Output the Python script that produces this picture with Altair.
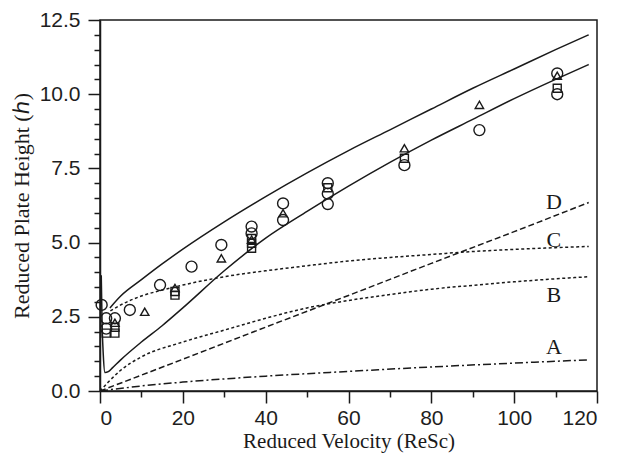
import altair as alt
import pandas as pd

# ---- model curves: reduced plate height h vs reduced velocity ----
upper_x = [2.4, 5, 10, 15, 20, 30, 40, 50, 60, 70, 80, 90, 100, 110, 118]
upper_h = [2.8, 3.2, 3.75, 4.28, 4.78, 5.7, 6.55, 7.35, 8.1, 8.8, 9.5, 10.2, 10.85, 11.5, 12.0]

lower_x = [0.3, 0.5, 0.8, 1.2, 2, 3, 5, 10, 15, 20, 30, 40, 50, 60, 70, 80, 90, 100, 110, 118]
lower_h = [3.9, 2.3, 1.2, 0.62, 0.65, 0.78, 1.05, 1.65, 2.2, 2.8, 4.05, 5.15, 6.05, 6.9, 7.7, 8.45, 9.15, 9.85, 10.5, 11.0]

# individual contributions A-D
a_x = [0, 10, 20, 40, 60, 80, 100, 118]
a_h = [0, 0.17, 0.3, 0.5, 0.66, 0.81, 0.94, 1.05]

b_x = [0, 2, 5, 10, 20, 30, 40, 50, 60, 70, 80, 90, 100, 110, 118]
b_h = [0, 0.3, 0.7, 1.15, 1.65, 2.05, 2.45, 2.8, 3.05, 3.25, 3.43, 3.56, 3.68, 3.78, 3.85]

c_x = [2.5, 5, 10, 15, 20, 30, 40, 50, 60, 70, 80, 90, 100, 110, 118]
c_h = [2.7, 2.9, 3.2, 3.4, 3.57, 3.85, 4.05, 4.22, 4.38, 4.5, 4.6, 4.7, 4.77, 4.83, 4.87]

d_x = [0, 20, 40, 60, 80, 100, 118]
d_h = [0, 1.07, 2.15, 3.22, 4.3, 5.37, 6.35]

# ---- measured points ----
circle_x = [0.4, 1.5, 3.6, 1.5, 7.2, 14.5, 22.1, 29.3, 36.6, 36.6, 44.2, 44.2,
            55, 55, 55, 73.5, 91.6, 110.4, 110.4]
circle_h = [2.9, 2.45, 2.45, 2.1, 2.73, 3.57, 4.19, 4.92, 5.54, 5.31, 6.32, 5.76,
            7.0, 6.65, 6.3, 7.61, 8.79, 10.7, 10.0]

tri_x = [3.6, 10.8, 18.1, 29.3, 36.6, 44.2, 73.5, 91.6, 110.4]
tri_h = [2.3, 2.67, 3.47, 4.47, 5.1, 5.99, 8.18, 9.64, 10.62]

sq_x = [1.5, 3.6, 3.6, 18.1, 18.1, 36.6, 36.6, 36.6, 55, 73.5, 110.4]
sq_h = [1.95, 2.15, 1.95, 3.35, 3.23, 5.14, 4.98, 4.81, 6.85, 7.84, 10.2]

# curve labels
lab_text = ["A", "B", "C", "D"]
lab_x = [109.6, 109.6, 109.6, 109.6]
lab_h = [1.49, 3.23, 5.09, 6.38]

# axis ticks
x_major = [0, 20, 40, 60, 80, 100, 120]
x_minor = [10, 30, 50, 70, 90, 110]
y_major = [0, 2.5, 5, 7.5, 10, 12.5]
y_minor = [v * 0.5 for v in range(26) if v % 5 != 0]

INK = "#1a1a1a"

x_scale = alt.Scale(domain=[0, 120], nice=False, zero=False)
y_scale = alt.Scale(domain=[0, 12.5], nice=False, zero=False)

x_axis = alt.Axis(
    values=x_major, tickSize=12, labelOverlap=False, orient="bottom",
    title="Reduced Velocity (ReSc)", titlePadding=2, titleFontSize=21,
    labelPadding=4, grid=False,
)
y_axis = alt.Axis(
    values=y_major, tickSize=12, labelOverlap=False, orient="left", format=".1f",
    title="Reduced Plate Height (ℎ)", titlePadding=6, labelPadding=8, grid=False,
)
# shorter unlabelled ticks between the major ones
x_axis_minor = alt.Axis(
    values=x_minor, tickSize=6, labels=False, domain=False, title=None,
    orient="bottom", grid=False,
)
y_axis_minor = alt.Axis(
    values=y_minor, tickSize=6, labels=False, domain=False, title=None,
    orient="left", grid=False,
)


def xy(xa=None, ya=None):
    return dict(
        x=alt.X("v:Q", scale=x_scale, axis=xa),
        y=alt.Y("h:Q", scale=y_scale, axis=ya),
    )


def curve(xs, hs, dash=None, xa=None, ya=None):
    df = pd.DataFrame({"v": xs, "h": hs})
    kw = dict(color=INK, strokeWidth=1.5, interpolate="monotone", clip=True)
    if dash:
        kw["strokeDash"] = dash
    return alt.Chart(df).mark_line(**kw).encode(**xy(xa, ya))


def points(xs, hs, shape, size):
    df = pd.DataFrame({"v": xs, "h": hs})
    return alt.Chart(df).mark_point(
        shape=shape, size=size, filled=False, color=INK, strokeWidth=1.4, opacity=1
    ).encode(**xy())


labels = alt.Chart(pd.DataFrame({"t": lab_text, "v": lab_x, "h": lab_h})).mark_text(
    font="Liberation Serif", fontSize=22, color=INK
).encode(text="t:N", **xy())

# each layer keeps its own axis: the upper curve carries the labelled major
# ticks, the lower curve the short minor ticks, the rest none
chart = alt.layer(
    curve(upper_x, upper_h, xa=x_axis, ya=y_axis),
    curve(lower_x, lower_h, xa=x_axis_minor, ya=y_axis_minor),
    curve(a_x, a_h, dash=[8, 3, 2, 3]),
    curve(b_x, b_h, dash=[3, 2.5]),
    curve(c_x, c_h, dash=[3, 2.5]),
    curve(d_x, d_h, dash=[6, 3]),
    points(circle_x, circle_h, "circle", 120),
    points(tri_x, tri_h, "triangle-up", 70),
    points(sq_x, sq_h, "square", 64),
    labels,
).resolve_axis(x="independent", y="independent").properties(
    width=497,
    height=371,
    autosize=alt.AutoSizeParams(type="none"),
    padding={"left": 100, "top": 20, "right": 37, "bottom": 62},
    background="white",
).configure_view(
    stroke=INK, strokeWidth=1.5
).configure_axis(
    domainColor=INK,
    domainWidth=1.5,
    tickColor=INK,
    tickWidth=1.5,
    labelFont="Liberation Sans",
    labelFontSize=21,
    labelColor="#1e1e1e",
    titleFont="Liberation Serif",
    titleFontSize=22,
    titleFontWeight="normal",
    titleColor=INK,
)

chart.save("out.html", embed_options={"renderer": "svg", "actions": False})
